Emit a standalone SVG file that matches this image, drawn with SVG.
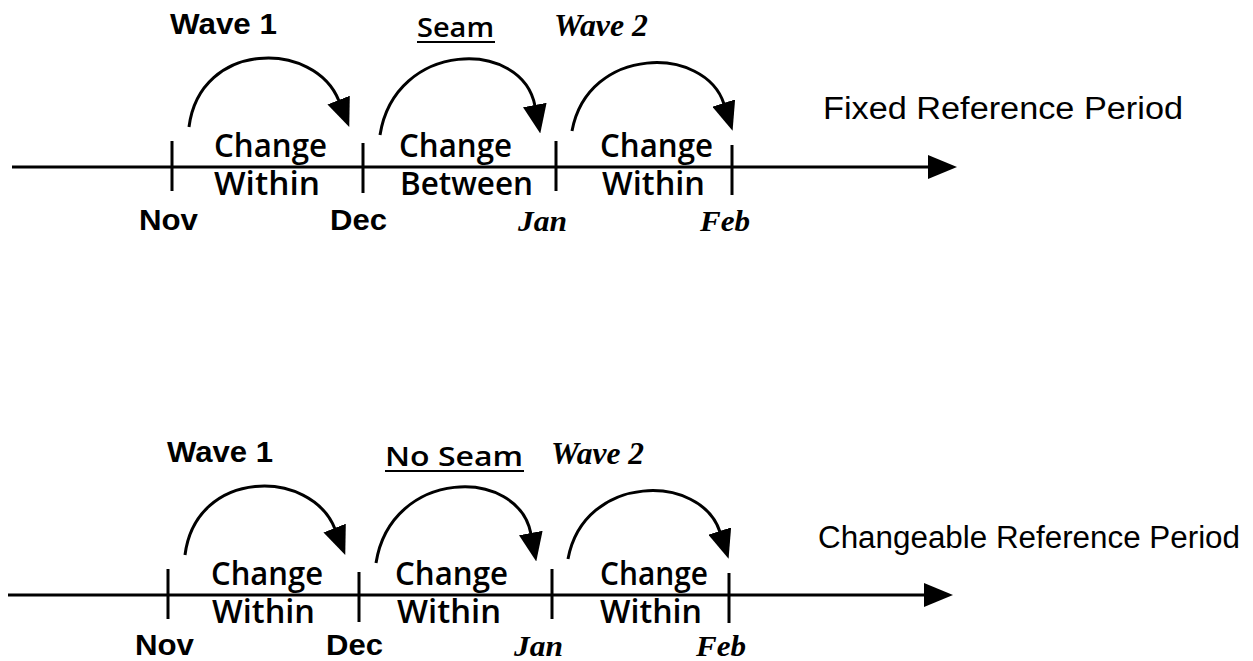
<svg xmlns="http://www.w3.org/2000/svg" width="1253" height="661" viewBox="0 0 1253 661">
  <style>
    .ln { fill: none; stroke: #000; stroke-width: 3; }
    .arc { fill: none; stroke: #000; stroke-width: 3; marker-end: url(#ah); }
    .ul { stroke: #000; stroke-width: 1.8; }
    .ch { font-family: "Open Sans", "Lato", sans-serif; font-weight: 600; font-size: 32px; fill: #000; }
    .sm { font-family: "Open Sans", "Lato", sans-serif; font-weight: 600; font-size: 27px; fill: #000; }
    .w1 { font-family: "Liberation Sans", Arial, sans-serif; font-weight: bold; font-size: 30px; fill: #000; }
    .w2 { font-family: "Liberation Serif", "Times New Roman", serif; font-weight: bold; font-style: italic; font-size: 31px; fill: #000; }
    .mb { font-family: "Liberation Sans", Arial, sans-serif; font-weight: bold; font-size: 30px; fill: #000; }
    .mi { font-family: "Liberation Serif", "Times New Roman", serif; font-weight: bold; font-style: italic; font-size: 30px; fill: #000; }
    .ttl { font-family: "Liberation Sans", Arial, sans-serif; font-size: 31px; fill: #000; }
  </style>
  <defs>
    <marker id="ah" markerUnits="userSpaceOnUse" markerWidth="29" markerHeight="24" viewBox="0 0 29 24" refX="1" refY="12" orient="auto">
      <path d="M0,0 L29,12 L0,24 z" fill="#000"/>
    </marker>
  </defs>

  <g id="connectors">
    <!-- top: fixed reference period -->
    <path class="arc" d="M12,167 H929"/>
    <path class="ln" d="M172,141 V191 M363,143 V193 M556,141 V191 M732,145 V195"/>
    <path class="arc" d="M189,127 C200,40 315,40 339,101"/>
    <path class="arc" d="M380,135 C395,40 522,38 535,106"/>
    <path class="arc" d="M572,131 C588,45 705,45 724,104"/>
    <!-- bottom: changeable reference period -->
    <path class="arc" d="M8,595 H925"/>
    <path class="ln" d="M168,569 V619 M359,572 V622 M552,569 V619 M729,573 V623"/>
    <path class="arc" d="M185,555 C196,468 311,468 335,529"/>
    <path class="arc" d="M376,563 C391,468 518,466 531,534"/>
    <path class="arc" d="M568,559 C584,473 701,473 720,532"/>
  </g>

  <g id="fixed-panel">
    <g id="wave1-top"><text class="w1" x="170" y="34" textLength="107" lengthAdjust="spacingAndGlyphs">Wave 1</text></g>
    <g id="seam-top">
      <text class="sm" x="417" y="37" textLength="77" lengthAdjust="spacingAndGlyphs">Seam</text>
      <line class="ul" x1="417" y1="42" x2="495" y2="42"/>
    </g>
    <g id="wave2-top"><text class="w2" x="554" y="36" textLength="94" lengthAdjust="spacingAndGlyphs">Wave 2</text></g>
    <g id="title-top"><text class="ttl" x="823" y="119" textLength="360" lengthAdjust="spacingAndGlyphs">Fixed Reference Period</text></g>
    <g id="seg1-top">
      <text class="ch" x="214" y="157" textLength="113" lengthAdjust="spacingAndGlyphs">Change</text>
      <text class="ch" x="214" y="195" textLength="106" lengthAdjust="spacingAndGlyphs">Within</text>
    </g>
    <g id="seg2-top">
      <text class="ch" x="399" y="157" textLength="113" lengthAdjust="spacingAndGlyphs">Change</text>
      <text class="ch" x="400" y="195" textLength="133" lengthAdjust="spacingAndGlyphs">Between</text>
    </g>
    <g id="seg3-top">
      <text class="ch" x="600" y="157" textLength="113" lengthAdjust="spacingAndGlyphs">Change</text>
      <text class="ch" x="602" y="195" textLength="103" lengthAdjust="spacingAndGlyphs">Within</text>
    </g>
    <g id="months-top">
      <text class="mb" x="139" y="230" textLength="59" lengthAdjust="spacingAndGlyphs">Nov</text>
      <text class="mb" x="330" y="230" textLength="57" lengthAdjust="spacingAndGlyphs">Dec</text>
      <text class="mi" x="518" y="231" textLength="49" lengthAdjust="spacingAndGlyphs">Jan</text>
      <text class="mi" x="700" y="231" textLength="50" lengthAdjust="spacingAndGlyphs">Feb</text>
    </g>
  </g>

  <g id="changeable-panel">
    <g id="wave1-bottom"><text class="w1" x="167" y="462" textLength="106" lengthAdjust="spacingAndGlyphs">Wave 1</text></g>
    <g id="noseam-bottom">
      <text class="sm" x="385" y="466" textLength="138" lengthAdjust="spacingAndGlyphs">No Seam</text>
      <line class="ul" x1="385" y1="471" x2="524" y2="471"/>
    </g>
    <g id="wave2-bottom"><text class="w2" x="551" y="464" textLength="93" lengthAdjust="spacingAndGlyphs">Wave 2</text></g>
    <g id="title-bottom"><text class="ttl" x="818" y="548" textLength="422" lengthAdjust="spacingAndGlyphs">Changeable Reference Period</text></g>
    <g id="seg1-bottom">
      <text class="ch" x="211" y="585" textLength="112" lengthAdjust="spacingAndGlyphs">Change</text>
      <text class="ch" x="212" y="623" textLength="103" lengthAdjust="spacingAndGlyphs">Within</text>
    </g>
    <g id="seg2-bottom">
      <text class="ch" x="395" y="585" textLength="113" lengthAdjust="spacingAndGlyphs">Change</text>
      <text class="ch" x="397" y="623" textLength="104" lengthAdjust="spacingAndGlyphs">Within</text>
    </g>
    <g id="seg3-bottom">
      <text class="ch" x="600" y="585" textLength="108" lengthAdjust="spacingAndGlyphs">Change</text>
      <text class="ch" x="600" y="623" textLength="102" lengthAdjust="spacingAndGlyphs">Within</text>
    </g>
    <g id="months-bottom">
      <text class="mb" x="135" y="655" textLength="59" lengthAdjust="spacingAndGlyphs">Nov</text>
      <text class="mb" x="326" y="655" textLength="57" lengthAdjust="spacingAndGlyphs">Dec</text>
      <text class="mi" x="514" y="656" textLength="49" lengthAdjust="spacingAndGlyphs">Jan</text>
      <text class="mi" x="696" y="656" textLength="50" lengthAdjust="spacingAndGlyphs">Feb</text>
    </g>
  </g>
</svg>
